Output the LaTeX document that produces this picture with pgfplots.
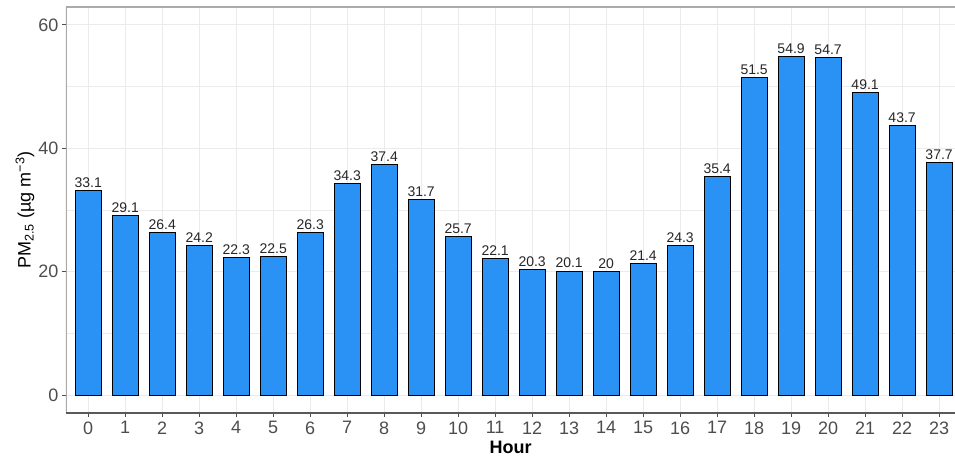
\documentclass[border=0pt]{standalone}
\usepackage{pgfplots}
\pgfplotsset{compat=1.18}
\usepackage{fontspec}
\setmainfont{Liberation Sans}
\definecolor{barblue}{RGB}{42,146,245}
\definecolor{gridc}{RGB}{235,235,235}
\definecolor{ticktext}{RGB}{77,77,77}
\definecolor{panelc}{RGB}{170,170,170}
\pgfplotstableread{
h v
0 33.1
1 29.1
2 26.4
3 24.2
4 22.3
5 22.5
6 26.3
7 34.3
8 37.4
9 31.7
10 25.7
11 22.1
12 20.3
13 20.1
14 20
15 21.4
16 24.3
17 35.4
18 51.5
19 54.9
20 54.7
21 49.1
22 43.7
23 37.7
}\pmdata
\begin{document}
\begin{tikzpicture}
\begin{axis}[
  scale only axis, width=889pt, height=406pt,
  xmin=-0.6, xmax=23.43, ymin=-2.9, ymax=62.9,
  axis line style={draw=none},
  /pgf/number format/assume math mode=true,
  ybar, bar width=0.7, bar shift=0pt,
  xtick={0,...,23}, ytick={0,20,40,60}, minor ytick={10,30,50},
  grid=both,
  major grid style={gridc, line width=1pt},
  minor grid style={gridc, line width=0.6pt},
  tick style={ticktext, line width=0.9pt},
  major tick length=4pt, minor tick length=0pt,
  tick align=outside, xtick pos=bottom, ytick pos=left,
  ticklabel style={font=\fontsize{18}{20}\selectfont, text=ticktext},
  xticklabel style={yshift=-1pt},
  xlabel={\textbf{Hour}},
  xlabel style={font=\fontsize{18}{20}\selectfont, at={(rel axis cs:0.5,0)}, anchor=center, yshift=-34pt},
  ylabel={PM\textsubscript{2.5} (µg m\textsuperscript{−3})},
  ylabel style={font=\fontsize{18}{20}\selectfont, at={(rel axis cs:0,0.5)}, anchor=center, yshift=41pt},
  nodes near coords,
  every node near coord/.append style={font=\fontsize{14}{16}\selectfont, text=black!85, inner sep=2.5pt},
]
\addplot[fill=barblue, draw=black, line width=0.9pt] table[x=h, y=v] {\pmdata};
\draw[panelc, line width=1.5pt] (rel axis cs:0,0) -- (rel axis cs:0,1) -- (rel axis cs:1,1);
\draw[black!65, line width=1.1pt] (rel axis cs:0,0) -- (rel axis cs:1,0);
\coordinate (bl) at (rel axis cs:0,0);
\coordinate (tr) at (rel axis cs:1,1);
\end{axis}
\pgfresetboundingbox
\path[use as bounding box] ([xshift=-66pt,yshift=-48pt]bl) rectangle ([yshift=7pt]tr);
\end{tikzpicture}
\end{document}
